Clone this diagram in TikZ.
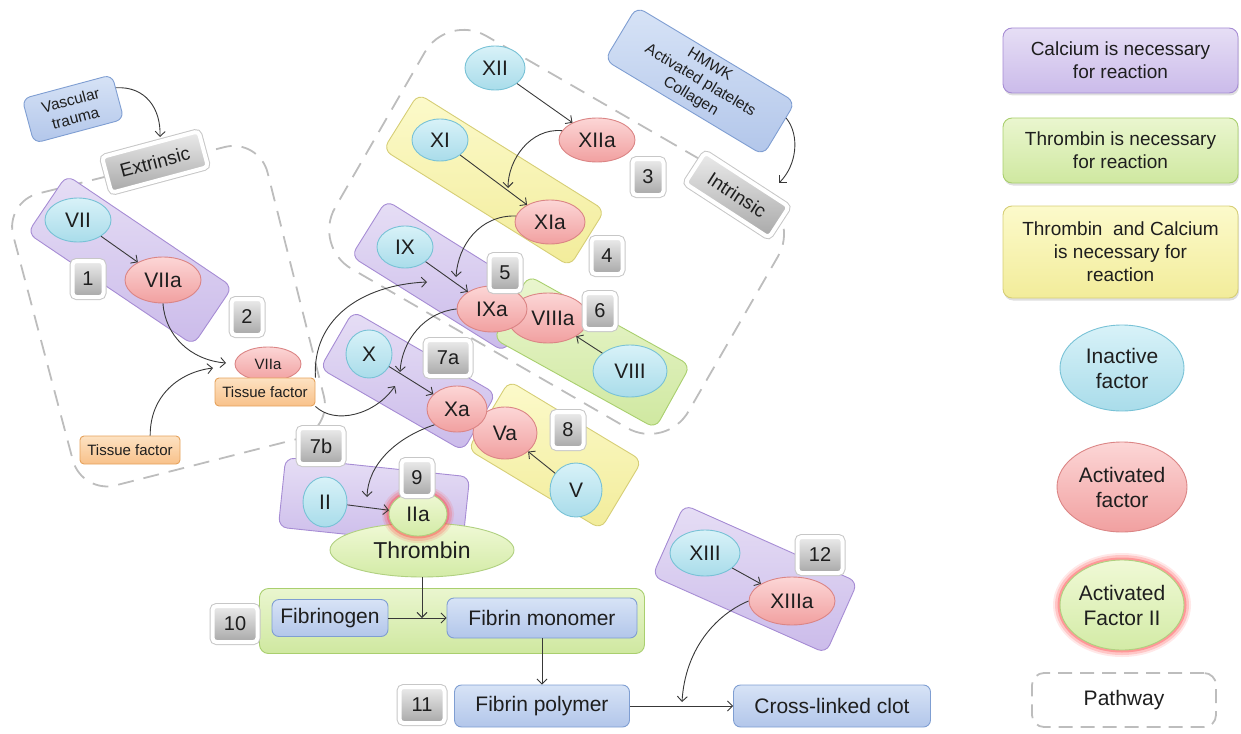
\documentclass[tikz,border=0pt]{standalone}
\usepackage{fontspec}
\setmainfont{Liberation Sans}
\usetikzlibrary{arrows.meta,shapes.geometric,shadows,calc}
\definecolor{txt}{HTML}{1E1E1E}
\definecolor{pT}{HTML}{E6DEF5}\definecolor{pB}{HTML}{CBBBEA}\definecolor{pD}{HTML}{A68CD4}
\definecolor{gT}{HTML}{EAF6CF}\definecolor{gB}{HTML}{CFE8A0}\definecolor{gD}{HTML}{A9CF6E}
\definecolor{yT}{HTML}{FCFACB}\definecolor{yB}{HTML}{F2EC9A}\definecolor{yD}{HTML}{D6CE76}
\definecolor{cT}{HTML}{D8F2F8}\definecolor{cB}{HTML}{A9DCEA}\definecolor{cD}{HTML}{78C2D6}
\definecolor{rT}{HTML}{FCD6D6}\definecolor{rB}{HTML}{F1A0A0}\definecolor{rD}{HTML}{DB8585}
\definecolor{tT}{HTML}{F0F9D6}\definecolor{tB}{HTML}{D3EBA6}\definecolor{tD}{HTML}{B0D080}
\definecolor{bT}{HTML}{D7E3F6}\definecolor{bB}{HTML}{B2C6EA}\definecolor{bD}{HTML}{7F9ED2}
\definecolor{oT}{HTML}{FDE2C2}\definecolor{oB}{HTML}{F8C18A}\definecolor{oD}{HTML}{E5A25C}
\definecolor{kT}{HTML}{EBEBEB}\definecolor{kB}{HTML}{A8A8A8}
\newcommand{\fszXL}{\fontsize{23}{26}\selectfont}
\newcommand{\fszL}{\fontsize{21}{25}\selectfont}
\newcommand{\fszM}{\fontsize{19}{23}\selectfont}
\newcommand{\fszB}{\fontsize{20}{22}\selectfont}
\newcommand{\fszS}{\fontsize{15.5}{18.5}\selectfont}
\newcommand{\fszT}{\fontsize{15}{17}\selectfont}
\tikzset{
 base/.style={line width=0.9pt, inner sep=0pt, text=txt, align=center},
 pbox/.style={base, rounded corners=9pt, draw=pD, top color=pT, bottom color=pB},
 gbox/.style={base, rounded corners=9pt, draw=gD, top color=gT, bottom color=gB},
 ybox/.style={base, rounded corners=9pt, draw=yD, top color=yT, bottom color=yB},
 bluebox/.style={base, rounded corners=7pt, draw=bD, top color=bT, bottom color=bB, font=\fszL},
 obox/.style={base, rounded corners=4pt, draw=oD, top color=oT, bottom color=oB, font=\fszT},
 inact/.style={base, ellipse, draw=cD, top color=cT, bottom color=cB, font=\fszL},
 actf/.style={base, ellipse, draw=rD, top color=rT, bottom color=rB, font=\fszL},
 thr/.style={base, ellipse, draw=tD, top color=tT, bottom color=tB, font=\fszL},
 glow/.style={preaction={draw=red!75, line width=14pt, draw opacity=0.12},
              preaction={draw=red!75, line width=10pt, draw opacity=0.2},
              preaction={draw=red!75, line width=5pt, draw opacity=0.35}},
 button/.style={base, rounded corners=4pt, draw=white, line width=4pt, top color=kT, bottom color=kB,
   preaction={draw=black!22, line width=6pt}, font=\fszM},
 badge/.style={button, minimum width=31pt, minimum height=36pt, font=\fszB},
 wbadge/.style={badge, minimum width=45pt},
 pathway/.style={draw=black!26, line width=1.8pt, dash pattern=on 16pt off 10pt},
 arr/.style={draw=black!78, line width=0.9pt, -{Straight Barb[length=5pt,width=10pt]}},
 lshadow/.style={drop shadow={opacity=0.25, shadow xshift=1pt, shadow yshift=-2.5pt}}
}
\begin{document}
\begin{tikzpicture}[x=1pt,y=-1pt]
\useasboundingbox (0,0) rectangle (1241,733);

% pathway regions
\draw[pathway, rounded corners=35pt] (131.6,170.2) -- (259,138.5) -- (332.4,430) -- (81.8,494) -- (4.3,202) -- cycle;
\draw[pathway, rounded corners=45pt] (623.9,115.4) -- (800.5,217.4) -- (666,450.4) -- (312.7,246.4) -- (447.2,13.4) -- cycle;

% legend
\node[pbox, lshadow, minimum width=235pt, minimum height=65pt, font=\fszM] (lcal) at (1120.5,60.5) {Calcium is necessary\\for reaction};
\node[gbox, lshadow, minimum width=235pt, minimum height=65pt, font=\fszM] (lthr) at (1120.5,150.5) {Thrombin is necessary\\for reaction};
\node[ybox, lshadow, minimum width=235pt, minimum height=92pt, font=\fszM] (lboth) at (1120.5,252) {Thrombin\ \ and Calcium\\is necessary for\\reaction};
\node[inact, minimum width=124pt, minimum height=86pt, font=\fszL] (lin) at (1122,368) {Inactive\\factor};
\node[actf, minimum width=130pt, minimum height=90pt] (lact) at (1122,487) {Activated\\factor};
\node[thr, glow, minimum width=124pt, minimum height=90pt] (lii) at (1122,605) {Activated\\Factor II};
\node[base, pathway, rounded corners=12pt, dash pattern=on 14pt off 8pt, minimum width=184pt, minimum height=54pt, font=\fszL] (lpath) at (1124,700) {Pathway};

% reaction boxes
\node[pbox, minimum width=200pt, minimum height=70pt, rotate=-34] (b1) at (130,260) {};
\node[ybox, minimum width=220pt, minimum height=66pt, rotate=-32] (b3) at (494,180) {};
\node[pbox, minimum width=180pt, minimum height=66pt, rotate=-32] (b5) at (445,276) {};
\node[gbox, minimum width=185pt, minimum height=72pt, rotate=-29] (b6) at (592,352) {};
\node[pbox, minimum width=165pt, minimum height=66pt, rotate=-30] (b7) at (408,381) {};
\node[ybox, minimum width=155pt, minimum height=80pt, rotate=-31] (b8) at (555,455) {};
\node[pbox, minimum width=185pt, minimum height=70pt, rotate=-6] (b9) at (374,502) {};
\node[pbox, minimum width=190pt, minimum height=78pt, rotate=-24] (b12) at (755,579) {};
\node[gbox, minimum width=385pt, minimum height=65pt] (b10) at (452,621) {};

% triggers
\node[base, rounded corners=8pt, draw=bD, top color=bT, bottom color=bB, font=\fszS, minimum width=93pt, minimum height=46pt, rotate=15] (vt) at (73,109) {Vascular\\trauma};
\node[base, rounded corners=9pt, draw=bD, top color=bT, bottom color=bB, font=\fszS, minimum width=185pt, minimum height=62pt, rotate=-31] (hm) at (700,81) {HMWK\\Activated platelets\\Collagen};
\node[button, minimum width=100pt, minimum height=37pt, rotate=15] (ext) at (155,162) {Extrinsic};
\node[button, minimum width=100pt, minimum height=37pt, rotate=-33] (int) at (737,195) {Intrinsic};

% factors
\node[inact, minimum width=66pt, minimum height=44pt] (vii) at (78,220) {VII};
\node[actf, minimum width=76pt, minimum height=46pt] (viia) at (163,280) {VIIa};
\node[actf, minimum width=66pt, minimum height=34pt, font=\fszT] (viias) at (268,364) {VIIa};
\node[obox, minimum width=100pt, minimum height=28pt] (tf1) at (265,392) {Tissue factor};
\node[obox, minimum width=100pt, minimum height=28pt] (tf2) at (130,450) {Tissue factor};
\node[inact, minimum width=60pt, minimum height=44pt] (xii) at (495,68) {XII};
\node[actf, minimum width=76pt, minimum height=44pt] (xiia) at (597,140) {XIIa};
\node[inact, minimum width=56pt, minimum height=42pt] (xi) at (440,140) {XI};
\node[actf, minimum width=70pt, minimum height=44pt] (xia) at (550,222) {XIa};
\node[inact, minimum width=56pt, minimum height=42pt] (ix) at (405,247) {IX};
\node[actf, minimum width=80pt, minimum height=50pt] (viiia) at (548,318) {\hspace*{10pt}VIIIa};
\node[actf, minimum width=70pt, minimum height=46pt] (ixa) at (492,309) {IXa};
\node[inact, minimum width=74pt, minimum height=52pt] (viii) at (630,371) {VIII};
\node[inact, minimum width=46pt, minimum height=48pt] (x) at (369,354) {X};
\node[actf, minimum width=64pt, minimum height=52pt] (va) at (505,433) {Va};
\node[actf, minimum width=60pt, minimum height=46pt] (xa) at (457,409) {Xa};
\node[inact, minimum width=52pt, minimum height=54pt] (v) at (576,490) {V};
\node[inact, minimum width=44pt, minimum height=50pt] (ii) at (325,502) {II};
\node[thr, minimum width=184pt, minimum height=54pt, font=\fszXL] (thromb) at (422,550) {Thrombin};
\node[thr, glow, minimum width=58pt, minimum height=44pt] (iia) at (418,514) {IIa};
\node[inact, minimum width=70pt, minimum height=46pt] (xiii) at (705,553) {XIII};
\node[actf, minimum width=86pt, minimum height=48pt] (xiiia) at (792,601) {XIIIa};

% fibrin chain
\node[bluebox, minimum width=116pt, minimum height=37pt] (fgen) at (330,618) {Fibrinogen};
\node[bluebox, minimum width=190pt, minimum height=40pt] (fmono) at (542,618) {Fibrin monomer};
\node[bluebox, minimum width=175pt, minimum height=42pt] (fpoly) at (542,706) {Fibrin polymer};
\node[bluebox, minimum width=197pt, minimum height=42pt] (clot) at (832,706) {Cross-linked clot};

% arrow targets
\coordinate (c1) at (226,363);
\coordinate (c2) at (213,368);
\coordinate (c3) at (427,282);
\coordinate (c4) at (395,386);
\coordinate (c5) at (508,188);
\coordinate (c6) at (456,277);
\coordinate (c7) at (400,372);
\coordinate (c8) at (367,497);
\coordinate (c9) at (422,618);
\coordinate (c10) at (682,702);
\coordinate (c11) at (779,183);
\coordinate (c12) at (160,137);

% arrows
\draw[arr] ($(vt.east)!0.4!(vt.north east)$) .. controls (145,86) and (161,108) .. (c12);
\draw[arr] ($(hm.east)!0.4!(hm.north east)$) .. controls (800,135) and (797,165) .. (c11);
\draw[arr] (vii) -- (viia);
\draw[arr] (viia.south) .. controls (165,335) and (190,360) .. (c1);
\draw[arr] ($(tf2.north)!0.4!(tf2.north east)$) .. controls (150,395) and (180,372) .. (c2);
\draw[arr] (tf1.north east) .. controls (312,320) and (360,285) .. (c3);
\draw[arr] (tf1.south east) .. controls (335,425) and (375,415) .. (c4);
\draw[arr] (xii) -- (xiia);
\draw[arr] (xiia.165) .. controls (530,128) and (508,160) .. (c5);
\draw[arr] (xi) -- (xia);
\draw[arr] (xia.170) .. controls (480,215) and (458,245) .. (c6);
\draw[arr] (ix) -- (ixa);
\draw[arr] (ixa.west) .. controls (425,312) and (402,340) .. (c7);
\draw[arr] (viii) -- (viiia);
\draw[arr] (x) -- (xa);
\draw[arr] (xa.215) .. controls (395,438) and (368,465) .. (c8);
\draw[arr] (v) -- (va);
\draw[arr] (ii) -- (iia);
\draw[arr] (thromb.south) -- (c9);
\draw[arr] (fgen) -- (fmono);
\draw[arr] (fmono) -- (fpoly);
\draw[arr] (fpoly) -- (clot);
\draw[arr] (xiii) -- (xiiia);
\draw[arr] (xiiia.west) .. controls (715,615) and (685,650) .. (c10);

% step badges
\node[badge] (s1) at (88,279) {1};
\node[badge] (s2) at (247,317) {2};
\node[badge] (s3) at (648,177) {3};
\node[badge] (s4) at (607,256) {4};
\node[badge] (s5) at (505,273) {5};
\node[badge] (s6) at (600,311) {6};
\node[wbadge] (s7a) at (448,358) {7a};
\node[wbadge] (s7b) at (321,446) {7b};
\node[badge] (s8) at (568,430) {8};
\node[badge] (s9) at (417,478) {9};
\node[wbadge] (s10) at (235,624) {10};
\node[wbadge] (s11) at (422,705) {11};
\node[wbadge] (s12) at (820,555) {12};
\end{tikzpicture}
\end{document}
